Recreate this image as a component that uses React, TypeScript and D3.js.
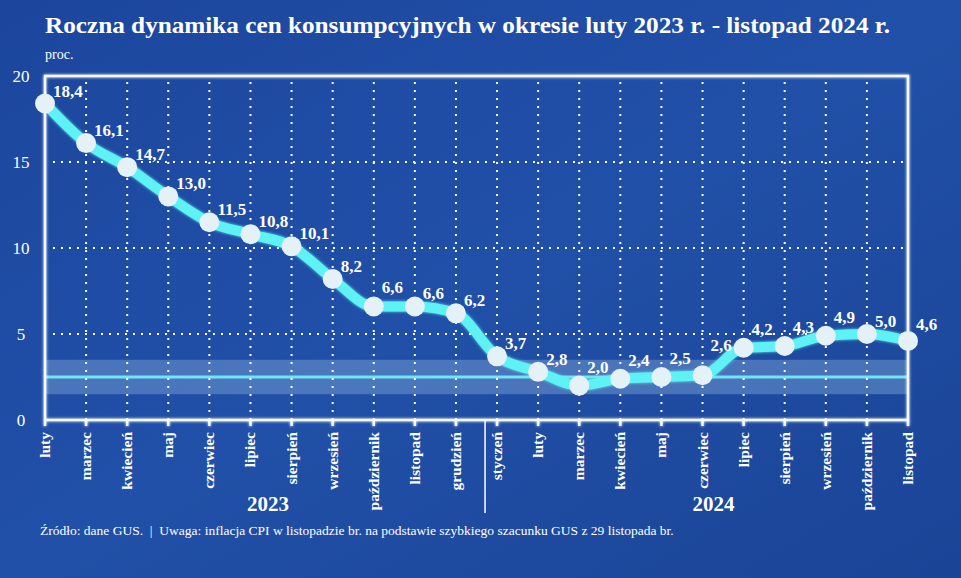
import React from "react";
import * as d3 from "d3";

const W = 961;
const H = 578;
const LEFT = 45;
const RIGHT = 908;
const TOP = 76;
const BOTTOM = 420;

const FONT = "'Liberation Serif', 'DejaVu Serif', serif";

// miesiące: luty 2023 - listopad 2024
const months = [
  "luty", "marzec", "kwiecień", "maj", "czerwiec", "lipiec", "sierpień",
  "wrzesień", "październik", "listopad", "grudzień",
  "styczeń", "luty", "marzec", "kwiecień", "maj", "czerwiec", "lipiec",
  "sierpień", "wrzesień", "październik", "listopad",
];
const cpi = [
  18.4, 16.1, 14.7, 13.0, 11.5, 10.8, 10.1, 8.2, 6.6, 6.6, 6.2,
  3.7, 2.8, 2.0, 2.4, 2.5, 2.6, 4.2, 4.3, 4.9, 5.0, 4.6,
];
const years = ["2023", "2024"];
const yTicks = [0, 5, 10, 15, 20];
// cel inflacyjny NBP 2,5% +/- 1 pkt proc.
const target = 2.5;
const band = [1.5, 3.5];

const fmt = (v: number) => v.toFixed(1).replace(".", ",");

// etykieta wyżej, gdy linia dalej rośnie
const labelLift = (i: number) => {
  const next = cpi[i + 1];
  if (next === undefined) return 11;
  const delta = next - cpi[i];
  if (delta < -0.3) return 7;
  if (delta > 1) return 24;
  return 13;
};

export default function App() {
  const x = d3
    .scalePoint<number>()
    .domain(d3.range(months.length))
    .range([LEFT, RIGHT]);
  const y = d3.scaleLinear().domain([0, 20]).range([BOTTOM, TOP]);

  const line = d3
    .line<number>()
    .x((_, i) => x(i)!)
    .y((d) => y(d))
    .curve(d3.curveMonotoneX);

  const splitX = x(11)! - 12;
  const yearX = [(LEFT + splitX) / 2 + 3, (splitX + RIGHT) / 2 + 17];

  return (
    <svg width={W} height={H} style={{ display: "block", position: "absolute", left: 0, top: 0 }}>
      <defs>
        <linearGradient id="bg" x1="0" y1="0" x2="1" y2="1">
          <stop offset="0%" stopColor="#1c469e" />
          <stop offset="50%" stopColor="#2150a8" />
          <stop offset="100%" stopColor="#1a4496" />
        </linearGradient>
        <filter id="glow" x="-20%" y="-20%" width="140%" height="140%">
          <feGaussianBlur stdDeviation="1.5" result="b" />
          <feMerge>
            <feMergeNode in="b" />
            <feMergeNode in="SourceGraphic" />
          </feMerge>
        </filter>
      </defs>
      <rect width={W} height={H} fill="url(#bg)" />

      {/* tytuł */}
      <text
        x={LEFT}
        y={33}
        fill="#ffffff"
        fontFamily={FONT}
        fontWeight="bold"
        fontSize={24}
        textLength={845}
        lengthAdjust="spacingAndGlyphs"
      >
        Roczna dynamika cen konsumpcyjnych w okresie luty 2023 r. - listopad 2024 r.
      </text>
      <text x={LEFT} y={59} fill="#ffffff" fontFamily={FONT} fontSize={14}>
        proc.
      </text>

      {/* pasmo celu */}
      <rect
        x={LEFT}
        width={RIGHT - LEFT}
        y={y(band[1])}
        height={y(band[0]) - y(band[1])}
        fill="#7ea6d6"
        opacity={0.45}
      />
      <line x1={LEFT} x2={RIGHT} y1={y(target)} y2={y(target)} stroke="#6fe6f2" strokeWidth={3} />

      {/* siatka */}
      {yTicks
        .filter((t) => t > 0 && t < 20)
        .map((t) => (
          <line
            key={"h" + t}
            x1={LEFT + 8}
            x2={RIGHT}
            y1={y(t)}
            y2={y(t)}
            stroke="#ffffff"
            strokeWidth={2}
            strokeDasharray="2,6"
          />
        ))}
      {months.slice(1).map((_, i) => (
        <line
          key={"v" + i}
          x1={x(i + 1)}
          x2={x(i + 1)}
          y1={TOP + 6}
          y2={BOTTOM}
          stroke="#ffffff"
          strokeWidth={2}
          strokeDasharray="2,6"
        />
      ))}

      {/* ramka */}
      <g filter="url(#glow)" stroke="#f4f8ff" strokeWidth={2.5} fill="none">
        <path d={`M${LEFT},${BOTTOM}V${TOP}H${RIGHT}V${BOTTOM}H${LEFT}`} />
        {months.map((_, i) => (
          <line key={"t" + i} x1={x(i)} x2={x(i)} y1={BOTTOM} y2={BOTTOM + 6} />
        ))}
      </g>

      {/* oś Y */}
      {yTicks.map((t) => (
        <text
          key={"y" + t}
          x={21}
          y={y(t)}
          dy="0.35em"
          textAnchor="middle"
          fill="#ffffff"
          fontFamily={FONT}
          fontSize={17}
        >
          {t}
        </text>
      ))}

      {/* etykiety miesięcy */}
      {months.map((m, i) => (
        <text
          key={"m" + i}
          transform={`translate(${x(i)! + 5},${BOTTOM + 12}) rotate(-90)`}
          textAnchor="end"
          fill="#ffffff"
          fontFamily={FONT}
          fontWeight="bold"
          fontSize={15.5}
        >
          {m}
        </text>
      ))}

      {/* lata */}
      <line x1={splitX} x2={splitX} y1={BOTTOM} y2={513} stroke="#ffffff" strokeWidth={1.5} />
      {years.map((yr, k) => (
        <text
          key={yr}
          x={yearX[k]}
          y={511}
          textAnchor="middle"
          fill="#ffffff"
          fontFamily={FONT}
          fontWeight="bold"
          fontSize={21}
        >
          {yr}
        </text>
      ))}

      {/* linia CPI */}
      <path d={line(cpi)!} fill="none" stroke="#5ef2f4" strokeWidth={10} strokeLinejoin="round" filter="url(#glow)" />
      {cpi.map((v, i) => (
        <circle key={"c" + i} cx={x(i)} cy={y(v)} r={10} fill="#e4f1f6" />
      ))}
      {cpi.map((v, i) => (
        <text
          key={"l" + i}
          x={x(i)! + 8}
          y={y(v) - labelLift(i)}
          fill="#ffffff"
          fontFamily={FONT}
          fontWeight="bold"
          fontSize={17}
        >
          {fmt(v)}
        </text>
      ))}

      {/* stopka */}
      <text x={40} y={535} fill="#ffffff" fontFamily={FONT} fontSize={13.5}>
        Źródło: dane GUS.{"\u00a0\u00a0"}|{"\u00a0\u00a0"}Uwaga: inflacja CPI w listopadzie br. na podstawie szybkiego szacunku GUS z 29 listopada br.
      </text>
    </svg>
  );
}
